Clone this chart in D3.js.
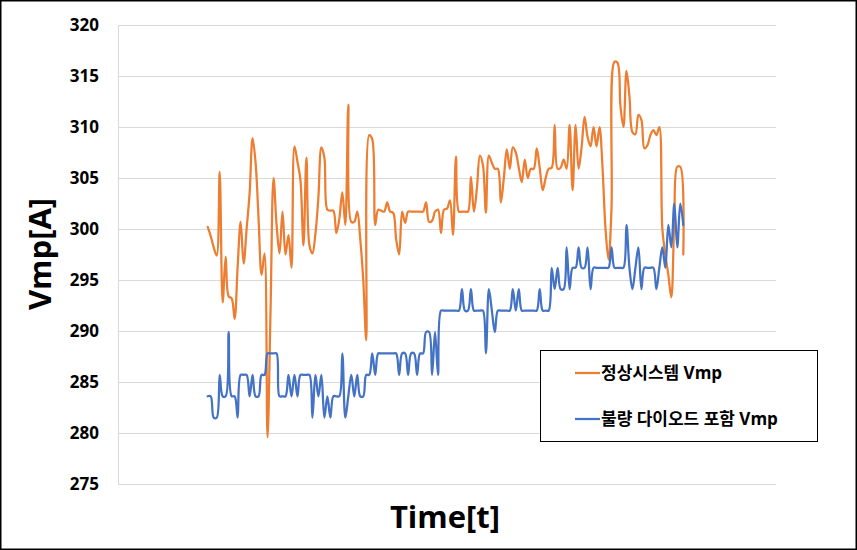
<!DOCTYPE html>
<html>
<head>
<meta charset="utf-8">
<script src="https://cdn.jsdelivr.net/npm/d3@7"></script>
<style>
  html, body { margin: 0; padding: 0; background: #fff; }
  svg { display: block; }
  text { font-family: "Open Sans", "Noto Sans CJK KR", sans-serif; }
</style>
</head>
<body>
<svg id="chart" width="857" height="550"></svg>
<script>
// ---- data ----
const seriesNames = ["정상시스템 Vmp", "불량 다이오드 포함 Vmp"];
const yTicks = [275, 280, 285, 290, 295, 300, 305, 310, 315, 320];
const xDomain = [0, 220];
const startIndex = 30;

const normalVmp = [
  300.2, 299.3, 298.2, 297.4, 305.6, 292.8, 297.3, 293.4, 293.2, 291.2,
  296.3, 300.7, 296.6, 300.0, 303.5, 308.9, 306.5, 301.0, 295.5, 297.6,
  279.6, 292.0, 305.0, 300.5, 297.6, 301.7, 297.5, 299.4, 296.2, 308.1,
  306.6, 304.8, 298.4, 307.0, 298.4, 297.6, 299.5, 303.1, 308.0, 307.0,
  301.9, 301.8, 301.8, 299.6, 301.0, 303.6, 300.4, 312.2, 300.7, 300.7,
  301.7, 299.0, 295.0, 289.1, 309.2, 308.8, 300.4, 301.9, 301.8, 301.7,
  302.6, 301.7, 301.6, 299.0, 297.5, 301.7, 300.6, 301.7, 301.7, 301.7,
  301.7, 301.7, 301.7, 302.6, 300.7, 300.8, 301.7, 301.9, 299.6, 301.9,
  302.0, 302.8, 299.4, 307.1, 301.7, 301.7, 301.7, 301.7, 305.1, 301.7,
  304.0, 307.2, 306.3, 301.6, 307.2, 306.5, 305.9, 305.9, 302.6, 305.0,
  307.8, 305.9, 308.0, 307.5, 306.0, 304.6, 306.8, 305.0, 305.9, 305.9,
  307.9, 306.0, 303.8, 305.0, 305.9, 306.0, 310.2, 305.9, 306.0, 306.8,
  305.9, 310.2, 303.8, 310.2, 305.9, 308.0, 311.0, 309.0, 308.1, 310.0,
  308.1, 310.0, 306.0, 300.0, 297.0, 302.0, 316.4, 316.3, 312.0, 310.0,
  315.5, 313.0, 309.5, 309.3, 311.2, 310.7, 307.9, 308.2, 309.2, 309.7,
  309.2, 310.0, 300.0, 297.5, 295.5, 293.3, 301.0, 306.1, 306.1, 297.5
];

const faultyVmp = [
  283.6, 283.6, 281.5, 281.5, 285.7, 283.6, 283.6, 289.9, 283.6, 283.6,
  281.5, 285.7, 285.7, 285.7, 283.6, 285.7, 283.6, 283.6, 285.7, 285.7,
  287.8, 287.8, 287.8, 287.8, 283.6, 283.6, 283.6, 285.7, 283.6, 285.7,
  283.6, 285.7, 285.7, 285.7, 285.7, 281.5, 285.7, 283.6, 285.7, 281.5,
  283.6, 281.5, 283.6, 283.6, 283.6, 287.8, 281.5, 283.6, 285.7, 283.6,
  285.7, 283.6, 283.6, 285.7, 285.7, 287.8, 285.7, 287.8, 287.8, 287.8,
  287.8, 287.8, 287.8, 287.8, 285.7, 287.8, 287.8, 285.7, 287.8, 287.8,
  285.7, 287.8, 287.8, 289.9, 289.9, 285.7, 289.9, 285.7, 292.0, 292.0,
  292.0, 292.0, 292.0, 292.0, 292.0, 294.1, 292.0, 292.0, 294.1, 292.0,
  292.0, 292.0, 292.0, 287.8, 294.1, 292.0, 289.9, 292.0, 292.0, 292.0,
  292.0, 292.0, 294.1, 292.0, 294.1, 292.0, 292.0, 292.0, 292.0, 292.0,
  292.0, 294.1, 292.0, 292.0, 292.0, 296.2, 294.1, 296.2, 294.1, 294.1,
  298.2, 294.1, 296.2, 296.2, 298.2, 296.2, 296.2, 298.2, 294.1, 296.2,
  296.2, 296.2, 296.2, 296.2, 296.2, 298.2, 296.2, 296.2, 296.2, 296.2,
  300.4, 296.2, 294.1, 296.2, 298.2, 294.1, 296.2, 296.2, 296.2, 296.2,
  294.1, 296.2, 298.2, 296.2, 300.4, 298.2, 302.5, 298.2, 302.5, 300.4
];

const colors = ["#ED7D31", "#4472C4"];

// ---- chart ----
const svg = d3.select("#chart");
const W = 857, H = 550;
const plot = { left: 118, right: 776, top: 25, bottom: 484 };

svg.append("rect").attr("x", 0).attr("y", 0).attr("width", W).attr("height", H).attr("fill", "#fff");

const x = d3.scaleLinear().domain(xDomain).range([plot.left, plot.right]);
const y = d3.scaleLinear().domain([275, 320]).range([plot.bottom, plot.top]);

// gridlines + tick labels
const yAxis = d3.axisLeft(y).tickValues(yTicks).tickSize(-(plot.right - plot.left)).tickPadding(19).tickFormat(d3.format("d"));
const gy = svg.append("g").attr("transform", `translate(${plot.left},0)`).call(yAxis);
gy.select(".domain").remove();
gy.selectAll(".tick line").attr("stroke", "#D9D9D9").attr("stroke-width", 1);
gy.selectAll(".tick text")
  .attr("fill", "#000").attr("font-size", 17).attr("font-weight", "bold")
  .style("font-family", "'Open Sans', 'Noto Sans CJK KR', sans-serif");

// left axis line
svg.append("line").attr("x1", plot.left + 0.5).attr("x2", plot.left + 0.5)
  .attr("y1", plot.top).attr("y2", plot.bottom).attr("stroke", "#D9D9D9");

// lines
const line = d3.line()
  .x((d, i) => x(startIndex + i))
  .y(d => y(d))
  .curve(d3.curveCatmullRom.alpha(0.5));

[normalVmp, faultyVmp].forEach((s, k) => {
  svg.append("path").datum(s).attr("d", line)
    .attr("fill", "none").attr("stroke", colors[k]).attr("stroke-width", 2.25)
    .attr("stroke-linejoin", "round").attr("stroke-linecap", "round");
});

// axis titles
svg.append("text").attr("transform", "translate(51,254) rotate(-90)")
  .attr("text-anchor", "middle").attr("font-size", 31).attr("font-weight", "bold")
  .attr("fill", "#000").text("Vmp[A]");
svg.append("text").attr("x", 445).attr("y", 528)
  .attr("text-anchor", "middle").attr("font-size", 31).attr("font-weight", "bold")
  .attr("fill", "#000").text("Time[t]");

// legend
const lg = svg.append("g");
lg.append("rect").attr("x", 540.5).attr("y", 350.5).attr("width", 277).attr("height", 91)
  .attr("fill", "#fff").attr("stroke", "#000").attr("stroke-width", 1);
seriesNames.forEach((name, k) => {
  const ly = 373 + k * 46;
  lg.append("line").attr("x1", 575).attr("x2", 600).attr("y1", ly).attr("y2", ly)
    .attr("stroke", colors[k]).attr("stroke-width", 2.25);
  lg.append("text").attr("x", 601).attr("y", ly + 6)
    .attr("font-size", 17).attr("font-weight", "bold").attr("fill", "#000").text(name);
});

// outer border
svg.append("rect").attr("x", 0.75).attr("y", 0.75).attr("width", W - 1.5).attr("height", H - 1.5)
  .attr("fill", "none").attr("stroke", "#000").attr("stroke-width", 1.5);
</script>
</body>
</html>
